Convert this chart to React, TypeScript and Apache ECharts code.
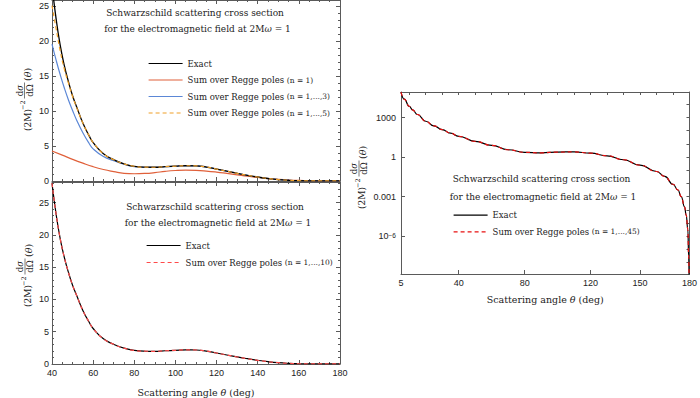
import React, { useEffect, useRef } from 'react';
import * as echarts from 'echarts';

// ---------- data ----------
// Linear panels (scattering angle in degrees)
const thetaLin = [40, 42, 44, 46, 48, 50, 52, 55, 58, 60, 65, 70, 75, 80, 85, 90, 95, 100, 105, 110, 115, 120, 125, 130, 135, 140, 145, 150, 155, 160, 165, 170, 175, 180];
const exactLin = [28.0, 23.2, 19.4, 16.5, 14.2, 12.2, 10.6, 8.3, 6.5, 5.5, 3.9, 3.05, 2.45, 2.1, 1.98, 1.97, 2.05, 2.12, 2.18, 2.17, 2.0, 1.7, 1.4, 1.09, 0.82, 0.57, 0.36, 0.2, 0.1, 0.04, 0.015, 0.01, 0.008, 0.01];
const regge3Lin = [19.6, 17.3, 15.2, 13.3, 11.6, 10.1, 8.7, 6.9, 5.4, 4.6, 3.5, 2.9, 2.4, 2.05, 1.96, 1.96, 2.05, 2.12, 2.18, 2.17, 2.0, 1.7, 1.4, 1.09, 0.82, 0.57, 0.36, 0.2, 0.1, 0.04, 0.015, 0.01, 0.008, 0.01];
const regge5Lin = [25.1, 21.8, 18.6, 16.0, 14.0, 12.1, 10.5, 8.3, 6.5, 5.5, 3.9, 3.05, 2.45, 2.1, 1.98, 1.97, 2.05, 2.12, 2.18, 2.17, 2.0, 1.7, 1.4, 1.09, 0.82, 0.57, 0.36, 0.2, 0.1, 0.04, 0.015, 0.01, 0.008, 0.01];
const thetaN1 = [40, 45, 50, 55, 60, 65, 70, 75, 80, 85, 90, 95, 100, 105, 110, 115, 120, 125, 130, 135, 140, 145, 150, 155, 160, 165, 170, 175, 180];
const regge1Lin = [4.3, 3.7, 3.1, 2.55, 2.05, 1.65, 1.35, 1.1, 1.04, 1.08, 1.2, 1.38, 1.5, 1.55, 1.52, 1.42, 1.27, 1.08, 0.88, 0.68, 0.5, 0.35, 0.23, 0.14, 0.08, 0.04, 0.02, 0.01, 0.01];
const regge10Lin = exactLin; // coincides with the exact curve

// Log panel
const thetaLog = [5, 7, 10, 12, 15, 20, 25, 30, 35, 40, 50, 60, 70, 80, 90, 100, 110, 120, 130, 140, 150, 160, 165, 170, 173, 175, 177, 178, 179, 179.5, 179.8];
const exactLog = [8.5e4, 2.5e4, 7.2e3, 3.8e3, 1.7e3, 525, 235, 120, 66, 38, 15.5, 7.8, 3.6, 2.3, 2.1, 2.4, 2.5, 2.0, 1.26, 0.63, 0.245, 0.081, 0.034, 0.0087, 0.0032, 1.0e-3, 1.7e-4, 4e-5, 3.2e-6, 3e-8, 1e-10];
const regge45Log = exactLog; // coincides with the exact curve

// Tick labels
const logXTicks = [5, 40, 80, 120, 150, 180];
const logXMinorTicks = [10, 20, 30, 50, 60, 70, 90, 100, 110, 130, 140, 160, 170];
const logYTicks = [1e3, 1, 1e-3, 1e-6];
const logYLabels = ['1000', '1', '0.001', '10{sup|−6}'];
const logYDecades = [1e-8, 1e-7, 1e-6, 1e-5, 1e-4, 1e-3, 1e-2, 1e-1, 1, 10, 100, 1e3, 1e4];

const nameExact = 'Exact';
const nameN1 = 'Sum over Regge poles (n = 1)';
const nameN3 = 'Sum over Regge poles (n = 1,...,3)';
const nameN5 = 'Sum over Regge poles (n = 1,...,5)';
const nameN10 = 'Sum over Regge poles (n = 1,...,10)';
const nameN45 = 'Sum over Regge poles (n = 1,...,45)';

const titleLine1 = 'Schwarzschild scattering cross section';
const titleLine2 = 'for the electromagnetic field at 2M{i|ω} = 1';
const xTitle = 'Scattering angle {i|θ} (deg)';

// ---------- styling ----------
const SERIF = '"DejaVu Serif", serif';
const SANS = '"Liberation Sans", Arial, sans-serif';
const FRAME = '#5a5a5a';
const TXT = '#222';

function pairs(xs: number[], ys: number[]) {
  return xs.map((x, i) => [x, ys[i]]);
}

function line(name: string, xs: number[], ys: number[], xi: number, yi: number, color: string, width = 1.2, dashed = false, z = 2, monotone = false) {
  return {
    type: 'line',
    name,
    xAxisIndex: xi,
    yAxisIndex: yi,
    data: pairs(xs, ys),
    showSymbol: false,
    symbol: 'none',
    smooth: 0.5,
    ...(monotone ? { smoothMonotone: 'x' } : {}),
    z,
    lineStyle: { color, width, type: dashed ? [4, 3] : 'solid' },
    itemStyle: { color },
  };
}

const baseAxis = {
  axisLine: { show: true, onZero: false, lineStyle: { color: FRAME, width: 1 } },
  axisTick: { show: true, inside: true, length: 4, lineStyle: { color: FRAME } },
  splitLine: { show: false },
};

const labelStyle = { fontFamily: SANS, fontSize: 9, color: TXT };
const nameStyle = { fontFamily: SERIF, fontSize: 9.5, color: TXT, rich: { i: { fontFamily: SERIF, fontSize: 9.5, fontStyle: 'italic', color: TXT } } };

function linX(gridIndex: number, position: string, showLabels: boolean) {
  return {
    ...baseAxis,
    type: 'value',
    gridIndex,
    position,
    min: 40,
    max: 180,
    interval: 20,
    minorTick: { show: true, splitNumber: 4, length: 2, lineStyle: { color: FRAME } },
    axisLabel: { show: showLabels, margin: 4, ...labelStyle },
    ...(showLabels ? { name: xTitle, nameLocation: 'middle', nameGap: 23, nameTextStyle: nameStyle } : {}),
  };
}

function linY(gridIndex: number, position: string, max: number, showLabels: boolean) {
  return {
    ...baseAxis,
    type: 'value',
    gridIndex,
    position,
    min: 0,
    max,
    interval: 5,
    minorTick: { show: true, splitNumber: 5, length: 2, lineStyle: { color: FRAME } },
    axisLabel: {
      show: showLabels,
      margin: 3,
      ...labelStyle,
      formatter: (v: number) => (Math.abs(v % 5) < 1e-9 ? String(v) : ''),
    },
  };
}

function yLabelGroup(cx: number, cy: number) {
  const ital = (size: number) => ({ i: { fontStyle: 'italic', fontFamily: SERIF, fontSize: size, fill: TXT } });
  const t = (text: string, x: number, y: number, size: number, align = 'left') => ({
    type: 'text',
    x,
    y,
    style: {
      text,
      font: `${size}px ${SERIF}`,
      fill: TXT,
      textAlign: align,
      textVerticalAlign: 'middle',
      rich: ital(size),
    },
  });
  return {
    type: 'group',
    x: cx,
    y: cy,
    rotation: Math.PI / 2,
    children: [
      t('(2M)', -33, 0, 9),
      t('−2', -12, -4.5, 6.5),
      t('d{i|σ}', 7.5, -8, 8.5, 'center'),
      { type: 'line', shape: { x1: -0.5, y1: -3, x2: 15.5, y2: -3 }, style: { stroke: TXT, lineWidth: 0.6 } },
      t('dΩ', 7.5, 2.2, 8.5, 'center'),
      t('({i|θ})', 17, 0, 9.5, 'left'),
    ],
  };
}

function titleTexts(x1: number, y1: number, x2: number, y2: number) {
  const mk = (text: string, x: number, y: number) => ({
    type: 'text',
    x,
    y,
    style: {
      text,
      font: `9px ${SERIF}`,
      fill: TXT,
      textAlign: 'center',
      textVerticalAlign: 'middle',
      rich: { i: { fontStyle: 'italic', fontFamily: SERIF, fontSize: 9, fill: TXT } },
    },
  });
  return [mk(titleLine1, x1, y1), mk(titleLine2, x2, y2)];
}

function legend(data: string[], left: number, top: number, gap: number) {
  return {
    data,
    orient: 'vertical',
    left,
    top,
    itemWidth: 34,
    itemHeight: 10,
    itemGap: gap,
    selectedMode: false,
    padding: 0,
    itemStyle: { opacity: 0 },
    lineStyle: { width: 1.2 },
    formatter: (name: string) => {
      const m = name.match(/^(.*?)(\(n.*\))$/);
      return m ? `${m[1]}{s|${m[2]}}` : name;
    },
    textStyle: {
      fontFamily: SERIF,
      fontSize: 8.5,
      color: TXT,
      rich: { s: { fontFamily: SERIF, fontSize: 7.5, color: TXT } },
    },
  };
}

export default function App() {
  const ref = useRef<HTMLDivElement>(null);

  useEffect(() => {
    document.body.style.margin = '0';
    if (!ref.current) return;
    const chart = echarts.init(ref.current, undefined, { renderer: 'svg' });

    const option: any = {
      animation: false,
      backgroundColor: '#ffffff',
      grid: [
        { left: 52, top: 0, width: 288, height: 181 },
        { left: 52, top: 182, width: 288, height: 182 },
        { left: 401, top: 92, width: 291, height: 182 },
      ],
      xAxis: [
        linX(0, 'bottom', false),
        linX(0, 'top', false),
        linX(1, 'bottom', true),
        linX(1, 'top', false),
        {
          ...baseAxis,
          type: 'value',
          gridIndex: 2,
          position: 'bottom',
          min: 5,
          max: 180,
          axisTick: { ...baseAxis.axisTick, customValues: logXTicks },
          axisLabel: { margin: 4, ...labelStyle, customValues: logXTicks },
          name: xTitle,
          nameLocation: 'middle',
          nameGap: 20,
          nameTextStyle: nameStyle,
        },
        {
          ...baseAxis,
          type: 'value',
          gridIndex: 2,
          position: 'top',
          min: 5,
          max: 180,
          axisTick: { ...baseAxis.axisTick, length: 3, customValues: logXMinorTicks.concat(logXTicks) },
          axisLabel: { show: false },
        },
      ],
      yAxis: [
        linY(0, 'left', 25.9, true),
        linY(0, 'right', 25.9, false),
        linY(1, 'left', 28.2, true),
        linY(1, 'right', 28.2, false),
        {
          ...baseAxis,
          type: 'log',
          gridIndex: 2,
          position: 'left',
          min: 1.35e-9,
          max: 8.7e4,
          axisTick: { ...baseAxis.axisTick, customValues: logYTicks },
          axisLabel: {
            margin: 5,
            ...labelStyle,
            customValues: logYTicks,
            formatter: (v: number) => {
              let best = 0;
              logYTicks.forEach((t, i) => {
                if (Math.abs(Math.log10(t) - Math.log10(v)) < Math.abs(Math.log10(logYTicks[best]) - Math.log10(v))) best = i;
              });
              return logYLabels[best];
            },
            rich: { sup: { fontFamily: SANS, fontSize: 6.5, color: TXT, verticalAlign: 'top', lineHeight: 6, padding: [0, 0, 6, 0] } },
          },
        },
        {
          ...baseAxis,
          type: 'log',
          gridIndex: 2,
          position: 'right',
          min: 1.35e-9,
          max: 8.7e4,
          axisTick: { ...baseAxis.axisTick, length: 3, customValues: logYDecades },
          axisLabel: { show: false },
        },
      ],
      legend: [
        legend([nameExact, nameN1, nameN3, nameN5], 148, 59, 7.5),
        legend([nameExact, nameN10], 146, 241, 8),
        legend([nameExact, nameN45], 453, 210.7, 7.6),
      ],
      series: [
        line(nameN1, thetaN1, regge1Lin, 0, 0, '#e0603a', 1.2, false, 2),
        line(nameN3, thetaLin, regge3Lin, 0, 0, '#5b87d6', 1.2, false, 3),
        line(nameExact, thetaLin, exactLin, 0, 0, '#000000', 1.3, false, 4),
        line(nameN5, thetaLin, regge5Lin, 0, 0, '#f0a028', 1.2, true, 5),
        line(nameExact, thetaLin, exactLin, 2, 2, '#000000', 1.2, false, 2),
        line(nameN10, thetaLin, regge10Lin, 2, 2, '#ff4a4a', 1.2, true, 3),
        line(nameExact, thetaLog, exactLog, 4, 4, '#000000', 1.2, false, 2, true),
        line(nameN45, thetaLog, regge45Log, 4, 4, '#e81010', 1.2, true, 3, true),
      ],
      graphic: {
        elements: [
          ...titleTexts(195, 13.3, 197.5, 29.3),
          ...titleTexts(215, 206.7, 218, 223.3),
          ...titleTexts(541.5, 179.3, 543, 197.3),
          yLabelGroup(27.5, 98),
          yLabelGroup(28, 274),
          yLabelGroup(362, 176),
        ],
      },
    };

    chart.setOption(option);
    return () => chart.dispose();
  }, []);

  return <div ref={ref} style={{ width: 700, height: 398 }} />;
}
